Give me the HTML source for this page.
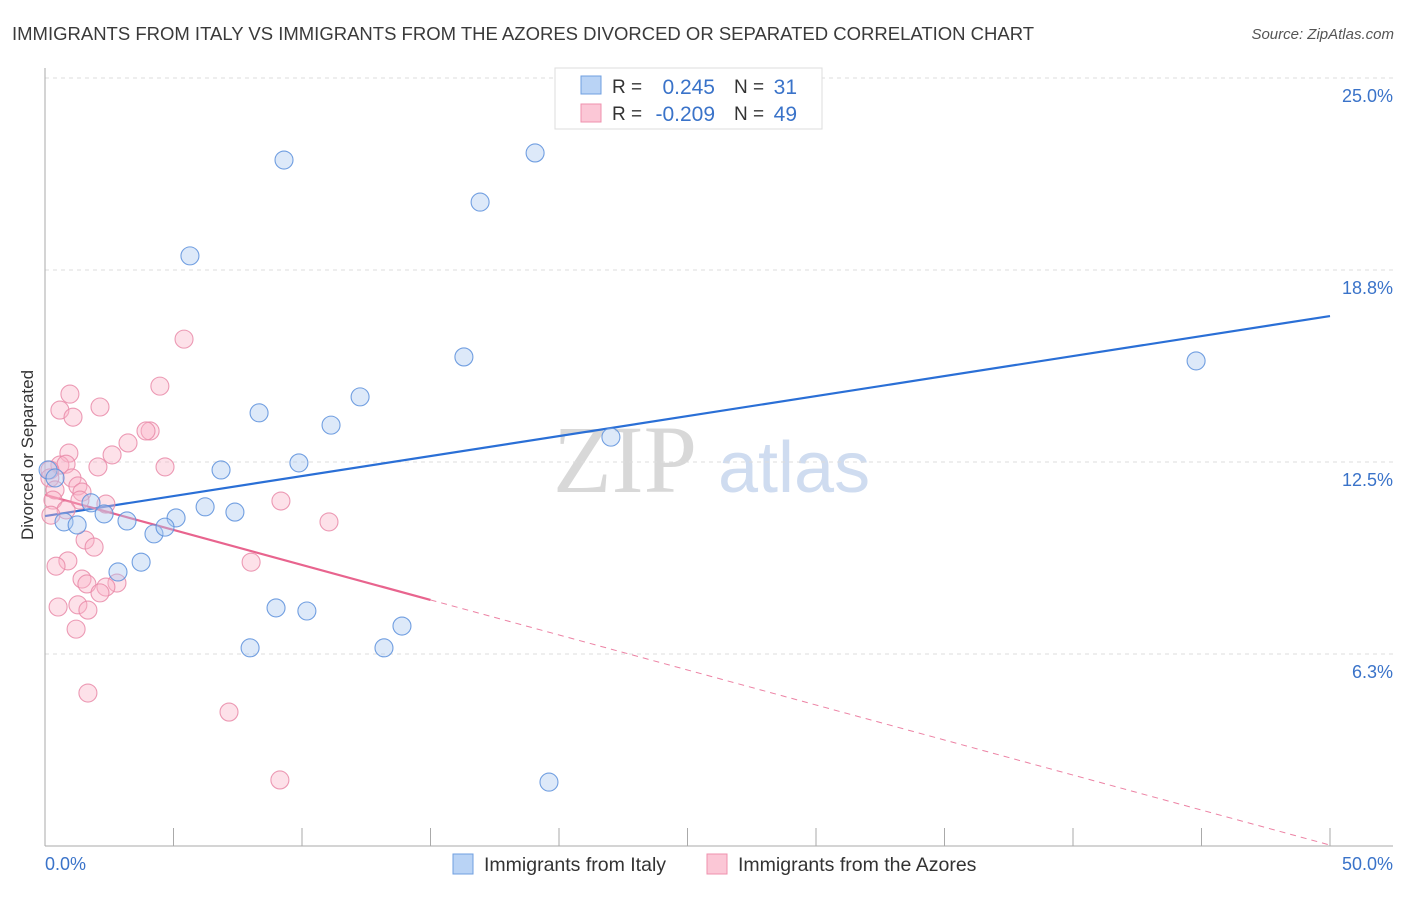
<!DOCTYPE html>
<html><head><meta charset="utf-8"><style>
body{margin:0;background:#fff;font-family:"Liberation Sans",sans-serif}
svg text{font-family:"Liberation Sans",sans-serif}
</style></head><body>
<svg id="chart" width="1406" height="892" xmlns="http://www.w3.org/2000/svg">
<text x="12" y="40" font-size="18.5" fill="#3a3a3a">IMMIGRANTS FROM ITALY VS IMMIGRANTS FROM THE AZORES DIVORCED OR SEPARATED CORRELATION CHART</text>
<text x="1394" y="39" font-size="15" fill="#555" text-anchor="end" font-style="italic">Source: ZipAtlas.com</text>
<g>
<text x="553" y="492" font-size="96" fill="#d8d8d8" style="font-family:'Liberation Serif',serif">ZIP</text>
<text x="718" y="492" font-size="72" fill="#cfdcf0">atlas</text>
</g>
<g id="grid"></g><g id="axes"></g><g id="lines"></g><g id="pts"></g>
<text transform="translate(33,455) rotate(-90)" font-size="17" fill="#333" text-anchor="middle">Divorced or Separated</text>
<text x="45" y="870" font-size="18" fill="#3a73c9">0.0%</text>
<text x="1393" y="870" font-size="18" fill="#3a73c9" text-anchor="end">50.0%</text>
<g>
<rect x="555" y="68" width="267" height="61" fill="#fff" stroke="#ddd"/>
<rect x="581" y="76" width="20" height="18" fill="#b9d3f5" stroke="#6f9fe0"/>
<rect x="581" y="104" width="20" height="18" fill="#fbc7d6" stroke="#ef90ae"/>
<text x="612" y="93" font-size="19" fill="#333">R =</text>
<text x="715" y="94" font-size="21" fill="#3a73c9" text-anchor="end">0.245</text>
<text x="734" y="93" font-size="19" fill="#333">N =</text>
<text x="797" y="94" font-size="21" fill="#3a73c9" text-anchor="end">31</text>
<text x="612" y="120" font-size="19" fill="#333">R =</text>
<text x="715" y="121" font-size="21" fill="#3a73c9" text-anchor="end">-0.209</text>
<text x="734" y="120" font-size="19" fill="#333">N =</text>
<text x="797" y="121" font-size="21" fill="#3a73c9" text-anchor="end">49</text>
</g>
<g>
<rect x="453" y="854" width="20" height="20" fill="#b9d3f5" stroke="#6f9fe0"/>
<text x="484" y="871" font-size="19.5" fill="#333">Immigrants from Italy</text>
<rect x="707" y="854" width="20" height="20" fill="#fbc7d6" stroke="#ef90ae"/>
<text x="738" y="871" font-size="19.5" fill="#333">Immigrants from the Azores</text>
</g>
</svg>
<script>
const yTicks=[6.25,12.5,18.75,25];
const yTickLabels=["6.3%","12.5%","18.8%","25.0%"];
const xTicks=[0,5,10,15,20,25,30,35,40,45,50];
const italyX=[9.30,19.07,16.93,5.64,16.30,44.79,12.26,8.33,11.13,22.02,6.85,9.88,0.12,0.39,1.79,2.30,3.19,0.74,1.25,5.10,6.23,7.39,4.24,4.67,3.74,2.84,8.99,10.19,13.89,7.98,13.19,19.61];
const italyY=[22.33,22.56,20.96,19.21,15.92,15.79,14.62,14.10,13.70,13.31,12.24,12.47,12.24,11.98,11.17,10.81,10.58,10.55,10.45,10.68,11.04,10.87,10.16,10.38,9.24,8.92,7.75,7.65,7.16,6.45,6.45,2.08];
const azoresX=[5.41,4.47,0.97,2.14,0.58,1.09,4.09,3.93,3.23,2.61,0.93,2.06,4.67,0.58,0.82,0.19,0.19,1.05,1.28,0.39,1.44,0.31,1.36,2.37,0.82,0.23,9.18,11.05,1.56,1.91,0.89,0.43,8.02,1.44,1.63,2.80,2.37,2.14,0.51,1.28,1.67,1.21,1.67,7.16,9.14];
const azoresY=[16.50,14.97,14.71,14.29,14.19,13.96,13.51,13.51,13.12,12.73,12.79,12.34,12.34,12.40,12.43,12.24,11.98,11.98,11.72,11.59,11.52,11.26,11.26,11.13,10.94,10.77,11.23,10.55,9.96,9.73,9.28,9.11,9.24,8.69,8.53,8.56,8.43,8.24,7.78,7.85,7.68,7.06,4.98,4.36,2.15];
const italyTrendX=[0,50], italyTrendY=[10.74,17.25];
const azoresTrendX=[0,15,50], azoresTrendY=[11.43,8.01,0.03];
const X=v=>45+v*25.7, Y=v=>846-v*30.72;
const NS="http://www.w3.org/2000/svg";
function mk(p,t,a){const e=document.createElementNS(NS,t);for(const k in a)e.setAttribute(k,a[k]);p.appendChild(e);return e;}
const grid=document.getElementById('grid'),axes=document.getElementById('axes'),lines=document.getElementById('lines'),pts=document.getElementById('pts');
yTicks.forEach((t,i)=>{
 const l=mk(grid,'line',{x1:45,x2:1393,y1:Y(t),y2:Y(t),stroke:'#ddd','stroke-dasharray':'4,4'});
 
 
 const tx=mk(grid,'text',{x:1393,y:Y(t)+24,'font-size':18,fill:'#3a73c9','text-anchor':'end'});
 tx.textContent=yTickLabels[i];
 
 
});
const tg=mk(grid,'line',{x1:45,x2:1393,y1:78,y2:78,stroke:'#ddd','stroke-dasharray':'4,4'});


const ya=mk(axes,'line',{x1:45,x2:45,y1:68,y2:846,stroke:'#aaa'});


const xa=mk(axes,'line',{x1:45,x2:1393,y1:846,y2:846,stroke:'#aaa'});


xTicks.forEach(t=>{const l=mk(axes,'line',{x1:X(t),x2:X(t),y1:828,y2:846,stroke:'#aaa'});
 
 });
function dots(xs,ys,fill,stroke,name){xs.forEach((x,i)=>{const c=mk(pts,'circle',{cx:X(x),cy:Y(ys[i]),r:9,fill:fill,stroke:stroke,'stroke-width':1.1,'fill-opacity':0.4,'stroke-opacity':0.85});
 
 });}
dots(azoresX,azoresY,'#f9b4c9','#e98aa8','azores-point');
dots(italyX,italyY,'#a9c8f0','#5a8fdc','italy-point');
const bl=mk(lines,'line',{x1:X(italyTrendX[0]),y1:Y(italyTrendY[0]),x2:X(italyTrendX[1]),y2:Y(italyTrendY[1]),stroke:'#2a6fd6','stroke-width':2.2});


const pl=mk(lines,'line',{x1:X(azoresTrendX[0]),y1:Y(azoresTrendY[0]),x2:X(azoresTrendX[1]),y2:Y(azoresTrendY[1]),stroke:'#e8648e','stroke-width':2.2});


const pd=mk(lines,'line',{x1:X(azoresTrendX[1]),y1:Y(azoresTrendY[1]),x2:X(azoresTrendX[2]),y2:Y(azoresTrendY[2]),stroke:'#e8648e','stroke-width':1,'stroke-dasharray':'6,5','opacity':0.8});


</script>
</body></html>
